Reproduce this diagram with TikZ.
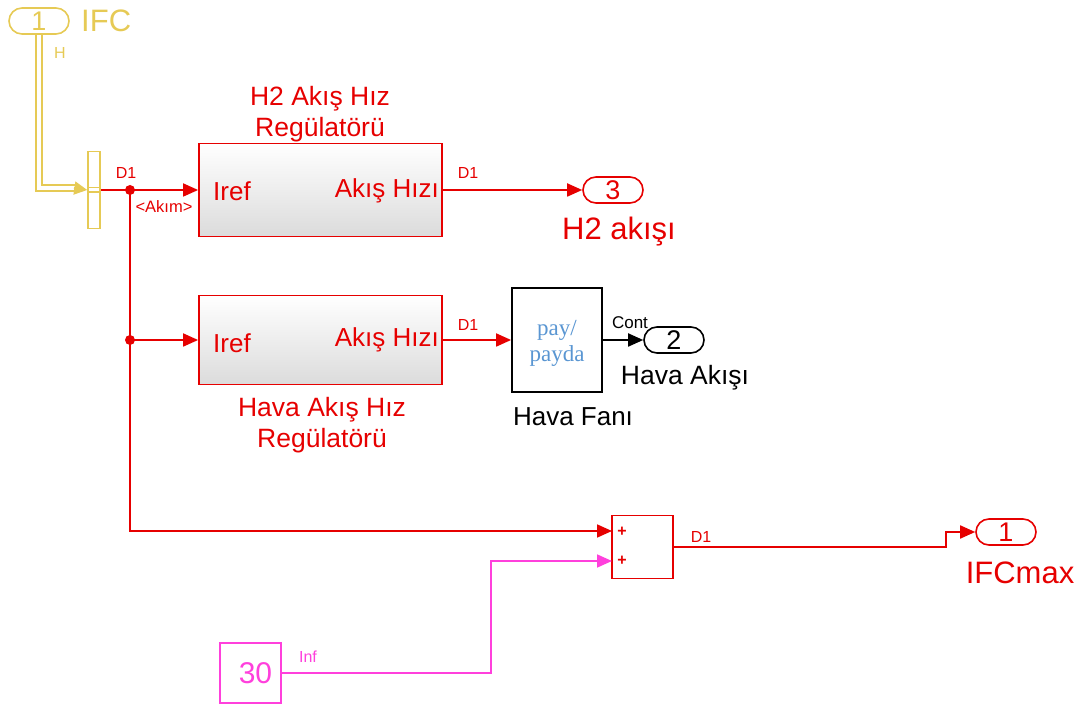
\documentclass[tikz,border=0pt]{standalone}
\usepackage{fontspec}
\setmainfont{Liberation Sans}
\newfontfamily\serifa{Liberation Serif}
\usetikzlibrary{arrows.meta}
\definecolor{sred}{RGB}{230,0,0}
\definecolor{syel}{RGB}{230,202,85}
\definecolor{smag}{RGB}{255,64,220}
\definecolor{sblue}{RGB}{90,150,210}
\newcommand{\fs}[1]{\fontsize{#1}{#1}\selectfont}
\tikzset{
  tip/.style={-{Triangle[length=15pt,width=13pt]}},
  redln/.style={draw=sred,line width=1.8pt},
  magln/.style={draw=smag,line width=1.8pt},
  blkln/.style={draw=black,line width=1.8pt},
  port/.style={draw,line width=1.6pt,rounded corners=13pt,minimum width=60pt,minimum height=26pt,inner sep=0pt,font=\fs{27}},
  subsys/.style={draw=sred,line width=1.8pt,top color=white,bottom color=black!14,minimum width=243pt,inner sep=0pt},
  lbl/.style={inner sep=0pt,align=center},
}
\begin{document}
\begin{tikzpicture}[x=1pt,y=-1pt]
\useasboundingbox (0,0) rectangle (1080,708);
% ports and blocks
\node[port,draw=syel,text=syel] (in1) at (39,21) {1};
\node[lbl,text=syel,font=\fs{31},anchor=west] (in1l) at (81,21) {IFC};
\node[draw=syel,line width=1.5pt,minimum width=12pt,minimum height=77pt,inner sep=0pt] (bus) at (94,190) {};
\draw[syel,line width=1.2pt] ([yshift=-2pt]bus.west) -- ([yshift=-2pt]bus.east)
   ([yshift=2.5pt]bus.west) -- ([yshift=2.5pt]bus.east);
\node[subsys,minimum height=93pt] (h2) at (320.5,190) {};
\node[lbl,text=sred,font=\fs{26},anchor=west] (h2i) at (213,191) {Iref};
\node[lbl,text=sred,font=\fs{26},anchor=east] (h2o) at (439,191) {Akış Hızı};
\node[lbl,text=sred,font=\fs{26.5}] (h2l) at (320,114) {H2 Akış Hız\\[4pt]Regülatörü};
\node[subsys,minimum height=89pt] (hava) at (320.5,340) {};
\node[lbl,text=sred,font=\fs{26},anchor=west] (havai) at (213,343) {Iref};
\node[lbl,text=sred,font=\fs{26},anchor=east] (havao) at (439,340) {Akış Hızı};
\node[lbl,text=sred,font=\fs{26.5}] (haval) at (322,425) {Hava Akış Hız\\[4pt]Regülatörü};
\node[draw=black,line width=1.8pt,minimum width=90pt,minimum height=104pt,inner sep=0pt] (fan) at (557,340) {};
\node[lbl,text=sblue,font={\serifa\fs{23}}] (fant) at (557,343) {pay/\\[3pt]payda};
\node[lbl,font=\fs{26}] (fanl) at (573,417) {Hava Fanı};
\node[port,draw=sred,text=sred] (out3) at (613,190) {3};
\node[lbl,text=sred,font=\fs{31}] (out3l) at (619,232) {H2 akışı};
\node[port,draw=black] (out2) at (674,340) {2};
\node[lbl,font=\fs{26.5}] (out2l) at (685,378) {Hava Akışı};
\node[draw=sred,line width=1.8pt,minimum width=61pt,minimum height=63pt,inner sep=0pt] (sum) at (642.5,547) {};
\node[lbl,text=sred,font={\bfseries\fs{16}}] (p1) at (622,532) {+};
\node[lbl,text=sred,font={\bfseries\fs{16}}] (p2) at (622,561) {+};
\node[port,draw=sred,text=sred] (out1) at (1006,532) {1};
\node[lbl,text=sred,font=\fs{31}] (out1l) at (1020,573) {IFCmax};
\node[draw=smag,line width=1.8pt,minimum width=61pt,minimum height=60pt,inner sep=0pt,text=smag,font=\fs{30}] (const) at (250.5,673) {\hspace*{10pt}30};
% coordinates
\coordinate (b1) at (130,190);
\coordinate (b2) at (130,340);
\coordinate (s1) at (612,531);
\coordinate (s2) at (612,561);
% yellow bus
\draw[syel,line width=2pt,double=white,double distance=3.5pt] (in1.south) -- (39,188) -- (76,188);
\draw[syel,line width=2pt,-{Triangle[length=13pt,width=13pt]}] (74,188) -- (bus.west);
\node[lbl,text=syel,font=\fs{16}] (hl) at (60,53) {H};
% red signals
\draw[redln,tip] (bus.east) -- (h2.west);
\draw[redln] (b1) -- (b2);
\draw[redln,tip] (b2) -- (hava.west);
\draw[redln,tip] (b2) |- (s1);
\fill[sred] (b1) circle (5pt) (b2) circle (5pt);
\node[lbl,text=sred,font=\fs{16}] (d1a) at (126,173) {D1};
\node[lbl,text=sred,font=\fs{16.5}] (ak) at (164,207) {<Akım>};
\draw[redln,tip] (h2.east) -- (out3.west);
\node[lbl,text=sred,font=\fs{16}] (d1b) at (468,173) {D1};
\draw[redln,tip] (hava.east) -- (fan.west);
\node[lbl,text=sred,font=\fs{16}] (d1c) at (468,325) {D1};
\draw[blkln,tip] (fan.east) -- (out2.west);
\node[lbl,font=\fs{17}] (cont) at (630,323) {Cont};
\draw[redln,tip] (sum.east) -- (946,547) -- (946,532) -- (out1.west);
\node[lbl,text=sred,font=\fs{16}] (d1d) at (701,537) {D1};
\draw[magln,tip] (const.east) -- (491,673) -- (491,561) -- (s2);
\node[lbl,text=smag,font=\fs{16}] (inf) at (308,657) {Inf};
\end{tikzpicture}
\end{document}
